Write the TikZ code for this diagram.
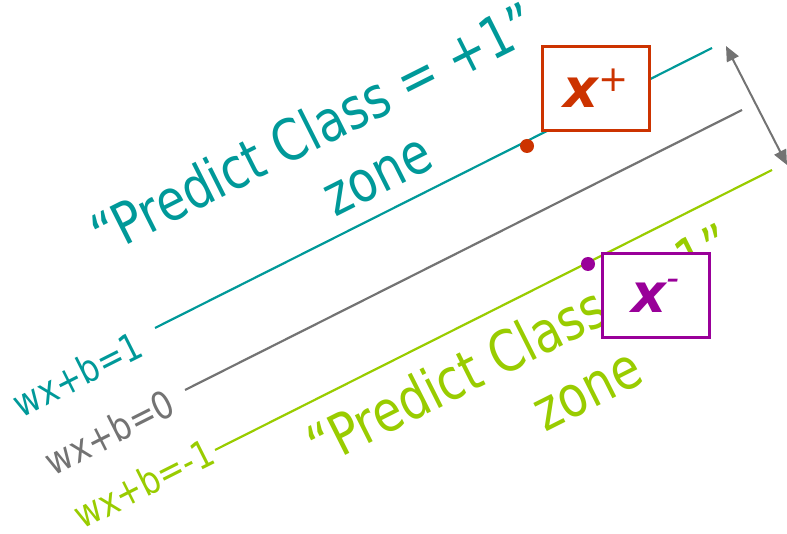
\documentclass[tikz,border=0pt]{standalone}
\usepackage{fontspec}
\setmainfont{DejaVu Sans}
\newfontfamily\narrowsans{DejaVu Sans}[FakeStretch=0.84]
\newfontfamily\zonesans{DejaVu Sans}[FakeStretch=0.83]
\usepackage{tikz}
\usetikzlibrary{arrows.meta,positioning,calc}
\definecolor{marg}{HTML}{009999}
\definecolor{sep}{HTML}{737373}
\definecolor{neg}{HTML}{99CC00}
\definecolor{ptpos}{HTML}{CC3300}
\definecolor{ptneg}{HTML}{990099}
\tikzset{
  hyp/.style    ={line width=2.2pt},
  eqlab/.style  ={font=\narrowsans\fontsize{38}{44}\selectfont, rotate=26.7, anchor=base,
                  inner sep=0pt},
  zonelab/.style={font=\zonesans\fontsize{57}{64}\selectfont, rotate=26.7, anchor=base,
                  inner sep=0pt},
  svbox/.style  ={draw, line width=3pt, fill=white, minimum width=107pt, minimum height=84pt,
                  inner sep=0pt},
  svdot/.style  ={circle, inner sep=0pt, minimum size=14pt},
  gap/.style    ={draw=sep, line width=2pt,
                  {Triangle[length=15pt,width=13pt]}-{Triangle[length=15pt,width=13pt]}},
}
\newcommand{\xsv}[2]{{\fontsize{54}{54}\selectfont\bfseries\itshape x}%
  \raisebox{#2}{\fontsize{36}{36}\selectfont\itshape #1}}

\begin{document}
\begin{tikzpicture}[x=1pt,y=1pt]
  \useasboundingbox (0,0) rectangle (787,533);

  % ---------------------------------------------------------------- hyperplanes
  \coordinate (m1a) at (155,205);  \coordinate (m1b) at (712,485);
  \coordinate (h0a) at (185,143);  \coordinate (h0b) at (742,423);
  \coordinate (m2a) at (215,83);   \coordinate (m2b) at (772,363);
  \draw[hyp, marg] (m1a) -- (m1b);
  \draw[hyp, sep]  (h0a) -- (h0b);
  \draw[hyp, neg]  (m2a) -- (m2b);

  \node[eqlab, text=marg] (lbl1)  at (84,146) {wx+b=1};
  \node[eqlab, text=sep]  (lbl0)  at (116,88) {wx+b=0};
  \node[eqlab, text=neg]  (lblm1) at (150,37) {wx+b=-1};

  % ---------------------------------------------------------------- zones
  \node[zonelab, text=marg] (zpos1) at (323,386) {“Predict Class = +1”};
  \node[zonelab, text=marg] (zpos2) at (386,341) {zone};
  \node[zonelab, text=neg]  (zneg1) at (529,170) {“Predict Class = -1”};
  \node[zonelab, text=neg]  (zneg2) at (596,126) {zone};

  % ---------------------------------------------------------------- margin width
  \coordinate (gtop) at (726,487);
  \coordinate (gbot) at (787,368);
  \draw[gap] (gtop) -- (gbot);

  % ---------------------------------------------------------------- support vectors
  \node[svdot, fill=ptpos] (dpos) at (527,387) {};
  \node[svdot, fill=ptneg] (dneg) at (588,269) {};
  \node[svbox, draw=ptpos, text=ptpos] (xpos) at (596,444.5) {\xsv{+}{16pt}};
  \node[svbox, draw=ptneg, text=ptneg] (xneg) at (655.5,237) {\xsv{-}{22pt}};
\end{tikzpicture}
\end{document}
